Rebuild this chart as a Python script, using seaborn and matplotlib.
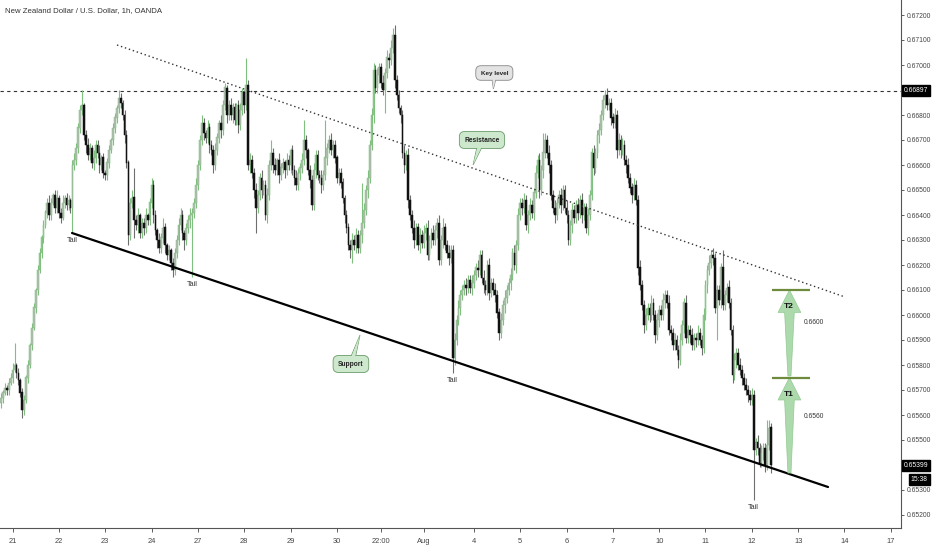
import matplotlib
matplotlib.use("Agg")
import numpy as np
import pandas as pd
import matplotlib.pyplot as plt
from matplotlib.patches import Polygon
from matplotlib import transforms
import seaborn as sns

# ---------------- data (prices in pips: 6567 -> 0.6567) ----------------
title = "New Zealand Dollar / U.S. Dollar, 1h, OANDA"
first_open = 6565
close_pips = [
    6567, 6569, 6571, 6570, 6573, 6575, 6578, 6580, 6577, 6574,
    6569, 6562, 6566, 6575, 6580, 6588, 6595, 6603, 6610, 6618,
    6625, 6631, 6636, 6641, 6645, 6640, 6645, 6648, 6643, 6647,
    6641, 6639, 6645, 6647, 6644, 6646, 6643, 6660, 6662, 6667,
    6675, 6682, 6684, 6672, 6668, 6664, 6667, 6661, 6663, 6668,
    6665, 6660, 6663, 6657, 6656, 6661, 6666, 6670, 6675, 6679,
    6683, 6687, 6685, 6680, 6672, 6661, 6632, 6645, 6647, 6638,
    6636, 6640, 6633, 6637, 6635, 6640, 6638, 6645, 6652, 6640,
    6634, 6630, 6627, 6631, 6635, 6628, 6624, 6626, 6621, 6618,
    6625, 6630, 6636, 6640, 6633, 6630, 6635, 6638, 6640, 6641,
    6645, 6652, 6660, 6670, 6677, 6673, 6671, 6675, 6668, 6666,
    6660, 6666, 6671, 6677, 6674, 6684, 6691, 6680, 6684, 6680,
    6683, 6678, 6684, 6676, 6682, 6689, 6684, 6692, 6660, 6662,
    6657, 6650, 6643, 6648, 6655, 6650, 6652, 6640, 6648, 6660,
    6665, 6660, 6658, 6662, 6656, 6659, 6661, 6658, 6662, 6660,
    6666, 6658, 6655, 6652, 6657, 6659, 6662, 6670, 6666, 6658,
    6654, 6644, 6658, 6664, 6656, 6655, 6652, 6656, 6663, 6667,
    6670, 6666, 6668, 6663, 6655, 6657, 6653, 6647, 6640, 6635,
    6628, 6626, 6630, 6628, 6632, 6627, 6632, 6637, 6642, 6650,
    6655, 6668, 6680, 6698, 6691, 6696, 6699, 6693, 6690, 6697,
    6703, 6702, 6707, 6712, 6694, 6688, 6683, 6680, 6665, 6660,
    6664, 6646, 6640, 6635, 6630, 6635, 6628, 6632, 6629, 6633,
    6635, 6624, 6630, 6633, 6630, 6634, 6637, 6622, 6630, 6635,
    6628, 6625, 6623, 6626, 6583, 6590, 6598, 6603, 6608, 6610,
    6612, 6611, 6614, 6611, 6613, 6616, 6619, 6618, 6624, 6615,
    6612, 6610, 6620, 6609, 6613, 6610, 6608, 6601, 6593, 6598,
    6604, 6607, 6610, 6613, 6616, 6625, 6620, 6628, 6640, 6645,
    6643, 6646, 6636, 6640, 6644, 6641, 6649, 6657, 6662, 6650,
    6658, 6665, 6670, 6665, 6660, 6648, 6643, 6640, 6645, 6648,
    6644, 6650, 6643, 6640, 6630, 6636, 6642, 6639, 6644, 6641,
    6646, 6640, 6643, 6635, 6640, 6648, 6665, 6659, 6665, 6672,
    6674, 6680, 6686, 6688, 6684, 6685, 6679, 6677, 6680, 6666,
    6670, 6666, 6668, 6662, 6660, 6655, 6651, 6648, 6652, 6646,
    6619, 6612, 6604, 6596, 6600, 6603, 6600, 6605, 6600, 6592,
    6598, 6602, 6600, 6606, 6608, 6605, 6594, 6593, 6588, 6590,
    6586, 6582, 6590, 6596, 6605, 6591, 6594, 6592, 6588, 6591,
    6590, 6593, 6590, 6587, 6600, 6612, 6618, 6621, 6624, 6623,
    6603, 6610, 6606, 6619, 6604, 6608, 6611, 6605, 6594, 6576,
    6582, 6585, 6580, 6578, 6575, 6572, 6570, 6568, 6566, 6568,
    6546, 6549, 6547, 6541, 6545, 6547, 6540, 6548, 6555, 6539.9,
]
wick_up = [
    2, 1, 2, 1, 2, 2, 3, 9, 1, 2, 1, 2, 2, 1, 2, 1, 2, 2, 1, 2,
    2, 1, 2, 1, 2, 3, 2, 1, 2, 3, 1, 2, 3, 1, 2, 2, 1, 2, 3, 2,
    2, 2, 6, 1, 2, 3, 2, 1, 3, 2, 2, 3, 1, 2, 1, 2, 2, 1, 2, 2,
    1, 3, 2, 1, 2, 2, 1, 2, 3, 12, 2, 3, 1, 2, 2, 3, 1, 2, 3, 2,
    2, 1, 3, 2, 4, 2, 1, 2, 1, 2, 2, 2, 3, 3, 2, 1, 2, 2, 3, 2,
    2, 3, 2, 2, 3, 2, 1, 3, 2, 2, 2, 3, 2, 1, 3, 2, 2, 1, 2, 3,
    2, 2, 1, 2, 3, 2, 1, 11, 2, 3, 2, 2, 3, 2, 2, 3, 2, 2, 3, 2,
    5, 2, 3, 1, 3, 2, 2, 1, 3, 2, 1, 2, 2, 3, 2, 2, 3, 8, 2, 1,
    2, 2, 3, 2, 2, 2, 3, 2, 15, 2, 2, 3, 2, 2, 1, 2, 2, 2, 1, 2,
    2, 2, 3, 2, 3, 2, 2, 16, 3, 2, 3, 2, 3, 3, 2, 3, 2, 2, 3, 2,
    3, 2, 3, 3, 4, 2, 2, 1, 2, 3, 2, 3, 2, 2, 3, 2, 2, 3, 2, 3,
    2, 3, 2, 2, 3, 2, 2, 3, 2, 4, 2, 2, 3, 2, 2, 3, 2, 3, 2, 2,
    2, 3, 2, 2, 3, 2, 2, 3, 2, 2, 3, 2, 2, 3, 2, 2, 3, 2, 2, 3,
    2, 3, 2, 2, 3, 2, 3, 2, 3, 2, 2, 3, 2, 2, 3, 2, 2, 3, 2, 3,
    2, 8, 3, 2, 3, 2, 2, 3, 2, 2, 3, 2, 2, 3, 2, 2, 3, 2, 2, 3,
    2, 3, 2, 2, 3, 2, 2, 3, 2, 2, 3, 2, 2, 2, 3, 2, 2, 2, 3, 2,
    3, 2, 3, 2, 2, 3, 2, 2, 3, 2, 2, 3, 2, 2, 3, 2, 2, 3, 2, 2,
    3, 2, 2, 3, 2, 2, 3, 2, 2, 3, 2, 2, 3, 2, 2, 3, 2, 2, 3, 2,
    2, 3, 2, 2, 3, 2, 2, 3, 2, 3, 2, 2, 2, 2, 7, 2, 2, 3, 2, 2,
    3, 2, 2, 3, 2, 2, 3, 2, 2, 3, 2, 2, 3, 2, 3, 2, 2, 10, 3, 2,
]
wick_dn = [
    2, 2, 1, 2, 2, 1, 2, 1, 2, 2, 2, 3, 2, 1, 2, 1, 2, 1, 2, 2,
    1, 2, 2, 1, 2, 2, 2, 1, 2, 2, 2, 2, 1, 2, 2, 2, 2, 10, 2, 2,
    2, 2, 2, 2, 3, 2, 2, 2, 3, 2, 2, 3, 2, 2, 2, 2, 2, 1, 2, 2,
    2, 2, 2, 2, 3, 2, 4, 2, 2, 7, 2, 3, 2, 2, 3, 2, 2, 2, 2, 3,
    2, 3, 2, 2, 2, 3, 2, 2, 3, 3, 2, 2, 2, 2, 3, 4, 2, 2, 3, 25,
    2, 2, 2, 2, 2, 3, 2, 2, 3, 2, 3, 2, 2, 2, 3, 2, 2, 3, 2, 2,
    3, 2, 2, 3, 2, 2, 3, 2, 2, 3, 2, 3, 10, 2, 2, 3, 2, 2, 3, 2,
    2, 3, 2, 2, 3, 2, 2, 3, 2, 2, 3, 2, 3, 2, 2, 3, 2, 2, 3, 2,
    3, 2, 2, 3, 2, 2, 3, 2, 2, 3, 2, 2, 3, 2, 2, 3, 2, 2, 3, 2,
    2, 3, 5, 2, 3, 2, 2, 3, 2, 2, 3, 2, 2, 3, 2, 2, 3, 2, 2, 9,
    2, 3, 2, 2, 3, 2, 2, 3, 2, 3, 2, 3, 2, 2, 3, 2, 2, 3, 2, 2,
    3, 2, 2, 3, 2, 2, 3, 2, 2, 3, 2, 2, 3, 2, 6, 3, 2, 2, 3, 2,
    2, 3, 2, 2, 3, 2, 2, 3, 2, 2, 3, 2, 2, 3, 2, 2, 3, 2, 3, 2,
    2, 3, 2, 2, 3, 2, 2, 3, 2, 2, 3, 2, 2, 3, 2, 2, 3, 2, 2, 3,
    2, 3, 2, 2, 3, 2, 2, 3, 2, 2, 3, 2, 2, 3, 2, 2, 3, 2, 2, 3,
    2, 3, 2, 2, 3, 2, 2, 3, 2, 2, 3, 2, 2, 3, 2, 2, 3, 2, 2, 3,
    2, 3, 2, 2, 3, 2, 2, 3, 2, 2, 3, 2, 2, 3, 2, 2, 3, 2, 2, 3,
    2, 3, 2, 2, 3, 2, 2, 3, 2, 2, 2, 3, 2, 2, 3, 2, 2, 3, 2, 2,
    3, 2, 2, 3, 2, 2, 3, 2, 2, 3, 2, 13, 2, 3, 2, 2, 3, 2, 2, 3,
    2, 3, 2, 2, 3, 2, 2, 3, 2, 2, 20, 2, 3, 2, 2, 3, 3, 2, 2, 3,
]
day_ticks = [6, 30, 54, 78, 102, 126, 150, 174, 197, 219,
             245, 269, 293, 317, 341, 365, 389, 413, 437, 461]
day_labels = ["21", "22", "23", "24", "27", "28", "29", "30", "22:00", "Aug",
              "4", "5", "6", "7", "10", "11", "12", "13", "14", "17"]
price_ticks = [0.652, 0.653, 0.655, 0.656, 0.657, 0.658, 0.659, 0.660, 0.661,
               0.662, 0.663, 0.664, 0.665, 0.666, 0.667, 0.668, 0.670, 0.671, 0.672]
key_level = 0.66897
last_price = 0.65399
countdown = "15:38"
support_x = [36.8, 428.5]
support_y = [0.66328, 0.65312]
resist_x = [60.1, 437.3]
resist_y = [0.67080, 0.66072]
targets = [0.6575, 0.6610]
target_names = ["T1", "T2"]
target_texts = ["0.6560", "0.6600"]
arrow_base = [0.65368, 0.65756]
tail_idx = [37, 99, 234, 390]

# ---------------- derived OHLC ----------------
close = np.array(close_pips, dtype=float) / 10000
opn = np.concatenate([[first_open / 10000], close[:-1]])
high = np.maximum(opn, close) + np.array(wick_up) / 10000
low = np.minimum(opn, close) - np.array(wick_dn) / 10000
df = pd.DataFrame({"i": np.arange(len(close)), "open": opn, "high": high,
                   "low": low, "close": close})
df["up"] = df["close"] >= df["open"]

# ---------------- style ----------------
sns.set_theme(style="white")
plt.rcParams["font.family"] = ["Liberation Sans", "DejaVu Sans"]

fig = plt.figure(figsize=(9.32, 5.5), dpi=100)
ax = fig.add_axes([0, 22 / 550, 901 / 932, 528 / 550])
ax.set_xlim(-0.52, 466.3)
ax.set_ylim(0.65148, 0.6726)

# candles
up = df[df["up"]]
dn = df[~df["up"]]
ax.vlines(up["i"], up["low"], up["high"], color="#7fc07f", lw=0.8, zorder=2)
ax.vlines(dn["i"], dn["low"], dn["high"], color="#6e6e6e", lw=0.8, zorder=2)
ax.bar(up["i"], np.maximum(up["close"] - up["open"], 0.00002), bottom=up["open"],
       width=0.9, color="#b4bab4", edgecolor="#7fc07f", lw=0.35, zorder=3)
ax.bar(dn["i"], np.maximum(dn["open"] - dn["close"], 0.00002), bottom=dn["close"],
       width=0.9, color="#111111", edgecolor="#111111", lw=0.35, zorder=3)

# key level, resistance, support
ax.axhline(key_level, color="#333333", lw=0.8, ls=(0, (3, 3)), zorder=1)
sns.lineplot(x=resist_x, y=resist_y, ax=ax, color="#333333", lw=1.0,
             linestyle=(0, (1, 2)), zorder=4)
sns.lineplot(x=support_x, y=support_y, ax=ax, color="black", lw=1.6, zorder=4)

# tail labels
for k in tail_idx:
    ax.text(k, df.loc[k, "low"] - 0.00016, "Tail", ha="center", va="top",
            fontsize=5.2, color="#333333", zorder=6)


# callouts (speech bubbles)
def callout(cx, cy, txt, tipx, tipy, face, edge, half, fs):
    ax.add_patch(Polygon([(cx - half, cy), (tipx, tipy), (cx + half, cy)],
                         closed=True, facecolor=face, edgecolor=edge, lw=0.6,
                         zorder=7))
    ax.text(cx, cy, txt, ha="center", va="center", fontsize=fs, fontweight="bold",
            color=(0, 0, 0, 0), zorder=7.2,
            bbox=dict(boxstyle="round,pad=0.75,rounding_size=0.8", facecolor=face,
                      edgecolor=edge, lw=0.6))
    ax.add_patch(Polygon([(cx - half + 0.35, cy), (tipx, tipy),
                          (cx + half - 0.35, cy)], closed=True,
                         facecolor=face, edgecolor="none", zorder=7.4))
    ax.text(cx, cy, txt, ha="center", va="center", fontsize=fs, fontweight="bold",
            color="#222222", zorder=7.6)


callout(255.6, 0.66968, "Key level", 255.1, 0.66904, "#e3e3e3", "#888888", 1.6, 4.6)
callout(249.2, 0.66700, "Resistance", 244.6, 0.66600, "#cde8cd", "#6a9a6a", 1.8, 4.8)
callout(181.3, 0.65804, "Support", 186.0, 0.65920, "#cde8cd", "#6a9a6a", 1.6, 4.8)

# targets
cx = 408.5
label_y = [0.65592, 0.65968]
for tgt, base, name, lab, ly in zip(targets, arrow_base, target_names,
                                    target_texts, label_y):
    head = tgt - 0.00090
    poly = Polygon([(cx, tgt), (cx + 5.9, head), (cx + 2.5, head),
                    (cx + 0.8, base), (cx - 0.8, base), (cx - 2.5, head),
                    (cx - 5.9, head)], closed=True, facecolor="#a9d8a9",
                   edgecolor="#8cc98c", lw=0.5, alpha=0.95, zorder=5)
    ax.add_patch(poly)
    ax.hlines(tgt, 399.3, 419.2, color="#6e8b3d", lw=1.6, zorder=6)
    ax.text(cx - 0.4, tgt - 0.00066, name, ha="center", va="center", fontsize=6,
            fontweight="bold", color="#111111", zorder=7)
    ax.text(415.8, ly, lab, ha="left", va="center", fontsize=4.8,
            color="#333333", zorder=7)

# axes styling
ax.yaxis.tick_right()
ax.set_yticks(price_ticks)
ax.set_yticklabels([f"{t:.5f}" for t in price_ticks])
ax.set_xticks(day_ticks)
ax.set_xticklabels(day_labels)
ax.tick_params(axis="y", labelsize=4.9, colors="#444444", length=2.5, width=0.6,
               pad=1.5, right=True)
ax.tick_params(axis="x", labelsize=5.4, colors="#444444", length=3, width=0.6, pad=4,
               bottom=True)
for s in ["top", "left"]:
    ax.spines[s].set_visible(False)
for s in ["right", "bottom"]:
    ax.spines[s].set_color("#555555")
    ax.spines[s].set_linewidth(0.8)
ax.set_xlabel("")
ax.set_ylabel("")
ax.grid(False)
if ax.get_legend() is not None:
    ax.get_legend().remove()

# price boxes on the axis
trans = transforms.blended_transform_factory(ax.transAxes, ax.transData)
for val, txt, xo in [(key_level, f"{key_level:.5f}", 1.003),
                     (last_price, f"{last_price:.5f}", 1.003)]:
    ax.text(xo, val, txt, transform=trans, ha="left", va="center",
            fontsize=4.9, color="white", zorder=10, clip_on=False,
            bbox=dict(boxstyle="square,pad=0.3", facecolor="black", edgecolor="black"))
ax.text(1.011, last_price - 0.00058, countdown, transform=trans, ha="left",
        va="center", fontsize=4.9, color="white", zorder=10, clip_on=False,
        bbox=dict(boxstyle="square,pad=0.3", facecolor="black", edgecolor="black"))

fig.text(5 / 932, 1 - 11 / 550, title, fontsize=5.6, color="#333333", va="center",
         ha="left")

fig.savefig("out.png", dpi=100)
